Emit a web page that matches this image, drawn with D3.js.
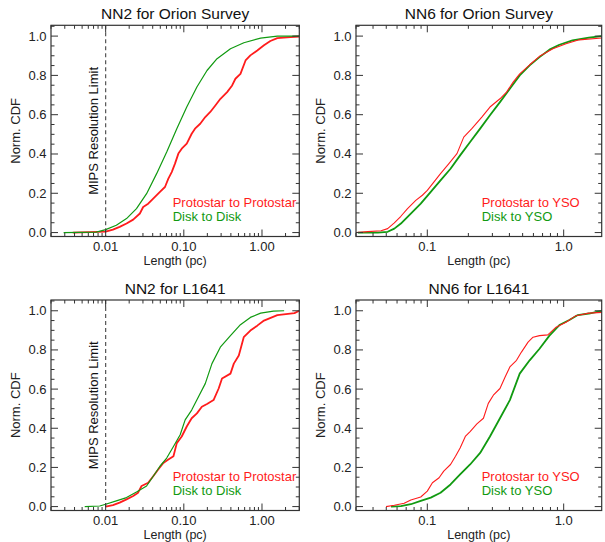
<!DOCTYPE html>
<html>
<head>
<meta charset="utf-8">
<script src="https://cdn.jsdelivr.net/npm/d3@7"></script>
<style>
  body { margin: 0; background: #fff; }
  text { font-family: "Liberation Sans", Arial, Helvetica, sans-serif; }
</style>
</head>
<body>
<svg id="chart" width="605" height="542"></svg>
<script>
// ---- data (length in pc, normalised CDF) ----
const nn2OrionProtoLen = [0.0038, 0.01, 0.0124, 0.0151, 0.0185, 0.0225, 0.0274, 0.0302, 0.035, 0.0406, 0.0495, 0.0574, 0.0634, 0.07, 0.0771, 0.0852, 0.094, 0.109, 0.126, 0.139, 0.162, 0.188, 0.218, 0.253, 0.294, 0.358, 0.415, 0.457, 0.53, 0.616, 0.71, 0.87, 1.06, 1.28, 1.57, 2.3, 3];
const nn2OrionProtoCdf = [0, 0.005, 0.015, 0.029, 0.046, 0.066, 0.097, 0.13, 0.147, 0.173, 0.207, 0.232, 0.275, 0.308, 0.351, 0.402, 0.427, 0.453, 0.503, 0.529, 0.554, 0.588, 0.614, 0.647, 0.681, 0.715, 0.749, 0.783, 0.808, 0.876, 0.902, 0.927, 0.953, 0.975, 0.99, 0.995, 0.998];
const nn2OrionDiskLen = [0.0029, 0.0076, 0.01, 0.0137, 0.0185, 0.0248, 0.0334, 0.0449, 0.0604, 0.0813, 0.109, 0.147, 0.198, 0.266, 0.395, 0.586, 0.96, 1.57, 3];
const nn2OrionDiskCdf = [0, 0.002, 0.015, 0.037, 0.071, 0.122, 0.198, 0.30, 0.41, 0.529, 0.639, 0.741, 0.825, 0.885, 0.936, 0.966, 0.99, 1.0, 1.0];

const nn6OrionProtoLen = [0.03, 0.0366, 0.0458, 0.0512, 0.0573, 0.064, 0.0716, 0.0823, 0.092, 0.1, 0.112, 0.125, 0.144, 0.165, 0.185, 0.212, 0.251, 0.288, 0.341, 0.381, 0.426, 0.476, 0.563, 0.665, 0.833, 1.04, 1.3, 1.9];
const nn6OrionProtoCdf = [0, 0.005, 0.009, 0.02, 0.049, 0.083, 0.122, 0.164, 0.19, 0.215, 0.258, 0.30, 0.351, 0.402, 0.486, 0.529, 0.588, 0.639, 0.681, 0.715, 0.766, 0.808, 0.854, 0.897, 0.936, 0.961, 0.981, 0.99];
const nn6OrionDiskLen = [0.031, 0.0434, 0.0512, 0.0573, 0.064, 0.0757, 0.0895, 0.106, 0.125, 0.148, 0.174, 0.206, 0.244, 0.288, 0.341, 0.403, 0.476, 0.563, 0.665, 0.786, 0.93, 1.16, 1.53, 1.9];
const nn6OrionDiskCdf = [0, 0.0, 0.004, 0.02, 0.046, 0.097, 0.147, 0.207, 0.266, 0.325, 0.393, 0.461, 0.529, 0.597, 0.664, 0.732, 0.80, 0.851, 0.893, 0.931, 0.956, 0.978, 0.992, 1.0];

const nn2L1641ProtoLen = [0.01, 0.0124, 0.0151, 0.0185, 0.0225, 0.026, 0.0288, 0.035, 0.0406, 0.047, 0.0547, 0.0634, 0.0737, 0.0813, 0.094, 0.109, 0.126, 0.147, 0.17, 0.198, 0.24, 0.279, 0.308, 0.395, 0.436, 0.505, 0.584, 0.71, 0.87, 1.06, 1.57, 2.6, 3];
const nn2L1641ProtoCdf = [0, 0.007, 0.02, 0.037, 0.054, 0.071, 0.105, 0.122, 0.155, 0.189, 0.223, 0.24, 0.257, 0.324, 0.358, 0.409, 0.451, 0.476, 0.51, 0.524, 0.544, 0.603, 0.654, 0.679, 0.73, 0.772, 0.865, 0.899, 0.924, 0.95, 0.978, 0.988, 1.0];
const nn2L1641DiskLen = [0.0054, 0.0084, 0.01, 0.0137, 0.0185, 0.0248, 0.0334, 0.0406, 0.0495, 0.0604, 0.0737, 0.0898, 0.104, 0.126, 0.154, 0.188, 0.229, 0.293, 0.395, 0.53, 0.71, 0.96, 1.4, 1.92];
const nn2L1641DiskCdf = [0, 0.003, 0.012, 0.029, 0.046, 0.074, 0.105, 0.155, 0.206, 0.248, 0.307, 0.367, 0.443, 0.493, 0.561, 0.628, 0.73, 0.814, 0.873, 0.929, 0.966, 0.988, 0.998, 1.0];

const nn6L1641ProtoLen = [0.0498, 0.0573, 0.0677, 0.0757, 0.0895, 0.1, 0.109, 0.122, 0.132, 0.148, 0.161, 0.174, 0.19, 0.206, 0.231, 0.258, 0.28, 0.305, 0.341, 0.372, 0.403, 0.451, 0.49, 0.548, 0.596, 0.665, 0.765, 0.88, 1.04, 1.23, 1.53, 1.9];
const nn6L1641ProtoCdf = [0, 0.007, 0.017, 0.034, 0.049, 0.079, 0.122, 0.147, 0.181, 0.215, 0.257, 0.299, 0.358, 0.383, 0.422, 0.451, 0.527, 0.569, 0.603, 0.662, 0.713, 0.747, 0.789, 0.84, 0.865, 0.873, 0.877, 0.916, 0.941, 0.975, 0.988, 0.992];
const nn6L1641DiskLen = [0.0542, 0.064, 0.0757, 0.0895, 0.106, 0.125, 0.148, 0.174, 0.206, 0.244, 0.288, 0.341, 0.403, 0.476, 0.563, 0.665, 0.786, 0.93, 1.1, 1.27, 1.53, 1.9];
const nn6L1641DiskCdf = [0, 0.002, 0.012, 0.029, 0.046, 0.071, 0.113, 0.164, 0.215, 0.274, 0.358, 0.451, 0.544, 0.679, 0.747, 0.806, 0.873, 0.927, 0.953, 0.978, 0.986, 1.0];

const yTickValues = [0, 0.2, 0.4, 0.6, 0.8, 1.0];
const nn2TickValues = [0.01, 0.1, 1];
const nn2TickLabels = ["0.01", "0.10", "1.00"];
const nn6TickValues = [0.1, 1];
const nn6TickLabels = ["0.1", "1.0"];
const mipsLimit = 0.01;

// ---- layout / styling ----
const RED = "#ff1c1c";
const GREEN = "#119a11";
const AXIS = "#333";

const svg = d3.select("#chart");
svg.append("rect").attr("width", 605).attr("height", 542).attr("fill", "#fff");

const panels = [
  { title: "NN2 for Orion Survey", box: [51, 299.3, 25.3, 236.5], xDomain: [0.002, 3],
    ticks: nn2TickValues, labels: nn2TickLabels, mips: true,
    series: [
      { len: nn2OrionProtoLen, cdf: nn2OrionProtoCdf, color: RED, w: 1.8 },
      { len: nn2OrionDiskLen, cdf: nn2OrionDiskCdf, color: GREEN, w: 1.2 }],
    legend: ["Protostar to Protostar", "Disk to Disk"] },
  { title: "NN6 for Orion Survey", box: [356, 601.7, 25.3, 236.5], xDomain: [0.03, 1.9],
    ticks: nn6TickValues, labels: nn6TickLabels, mips: false,
    series: [
      { len: nn6OrionDiskLen, cdf: nn6OrionDiskCdf, color: GREEN, w: 1.8 },
      { len: nn6OrionProtoLen, cdf: nn6OrionProtoCdf, color: RED, w: 1.1 }],
    legend: ["Protostar to YSO", "Disk to YSO"] },
  { title: "NN2 for L1641", box: [51, 299.3, 300, 510.5], xDomain: [0.002, 3],
    ticks: nn2TickValues, labels: nn2TickLabels, mips: true,
    series: [
      { len: nn2L1641ProtoLen, cdf: nn2L1641ProtoCdf, color: RED, w: 1.8 },
      { len: nn2L1641DiskLen, cdf: nn2L1641DiskCdf, color: GREEN, w: 1.2 }],
    legend: ["Protostar to Protostar", "Disk to Disk"] },
  { title: "NN6 for L1641", box: [356, 601.7, 300, 510.5], xDomain: [0.03, 1.9],
    ticks: nn6TickValues, labels: nn6TickLabels, mips: false,
    series: [
      { len: nn6L1641DiskLen, cdf: nn6L1641DiskCdf, color: GREEN, w: 1.8 },
      { len: nn6L1641ProtoLen, cdf: nn6L1641ProtoCdf, color: RED, w: 1.1 }],
    legend: ["Protostar to YSO", "Disk to YSO"] }
];

function logMinors(domain, majors) {
  const out = [];
  for (let k = Math.floor(Math.log10(domain[0])); k <= Math.ceil(Math.log10(domain[1])); k++) {
    for (let m = 1; m <= 9; m++) {
      const v = m * Math.pow(10, k);
      if (v >= domain[0] && v <= domain[1] && !majors.some(t => Math.abs(t - v) < 1e-9)) out.push(v);
    }
  }
  return out;
}

panels.forEach((p, i) => {
  const [L, R, T, B] = p.box;
  const x = d3.scaleLog().domain(p.xDomain).range([L, R]);
  const y = d3.scaleLinear().domain([-0.02, 1.055]).range([B, T]);
  const g = svg.append("g");

  g.append("clipPath").attr("id", "clip" + i)
    .append("rect").attr("x", L).attr("y", T).attr("width", R - L).attr("height", B - T);

  // curves
  const line = d3.line().x(d => x(d[0])).y(d => y(d[1]));
  const curves = g.append("g").attr("clip-path", `url(#clip${i})`);
  p.series.forEach(s => {
    curves.append("path")
      .datum(s.len.map((v, j) => [v, s.cdf[j]]))
      .attr("d", line)
      .attr("fill", "none")
      .attr("stroke", s.color)
      .attr("stroke-width", s.w)
      .attr("stroke-linejoin", "round");
  });

  // MIPS resolution line
  if (p.mips) {
    g.append("line")
      .attr("x1", x(mipsLimit)).attr("x2", x(mipsLimit))
      .attr("y1", T).attr("y2", B)
      .attr("stroke", "#555").attr("stroke-width", 1.2)
      .attr("stroke-dasharray", "4,3");
    g.append("text")
      .attr("transform", `translate(${x(mipsLimit) - 8},${(T + B) / 2}) rotate(-90)`)
      .attr("text-anchor", "middle")
      .attr("font-size", 13)
      .attr("fill", "#111")
      .text("MIPS Resolution Limit");
  }

  // box
  g.append("rect").attr("x", L).attr("y", T).attr("width", R - L).attr("height", B - T)
    .attr("fill", "none").attr("stroke", AXIS).attr("stroke-width", 1.2);

  // x ticks (bottom and top, inward)
  const minorsX = logMinors(p.xDomain, p.ticks);
  const tickG = g.append("g").attr("stroke", AXIS).attr("stroke-width", 1);
  p.ticks.forEach(v => {
    tickG.append("line").attr("x1", x(v)).attr("x2", x(v)).attr("y1", B).attr("y2", B - 7);
    tickG.append("line").attr("x1", x(v)).attr("x2", x(v)).attr("y1", T).attr("y2", T + 7);
  });
  minorsX.forEach(v => {
    tickG.append("line").attr("x1", x(v)).attr("x2", x(v)).attr("y1", B).attr("y2", B - 3.5);
    tickG.append("line").attr("x1", x(v)).attr("x2", x(v)).attr("y1", T).attr("y2", T + 3.5);
  });
  // y ticks (left and right, inward)
  d3.range(0, 22).map(k => k * 0.05).forEach((v, k) => {
    const len = k % 4 === 0 ? 7 : 3.5;
    tickG.append("line").attr("x1", L).attr("x2", L + len).attr("y1", y(v)).attr("y2", y(v));
    tickG.append("line").attr("x1", R).attr("x2", R - len).attr("y1", y(v)).attr("y2", y(v));
  });

  // tick labels
  g.selectAll(".xl").data(p.ticks).join("text")
    .attr("x", d => x(d)).attr("y", B + 14)
    .attr("text-anchor", "middle").attr("font-size", 13).attr("fill", "#222")
    .text((d, j) => p.labels[j]);
  g.selectAll(".yl").data(yTickValues).join("text")
    .attr("x", L - 4.5).attr("y", d => y(d) + 4.5)
    .attr("text-anchor", "end").attr("font-size", 13).attr("fill", "#222")
    .text(d => d3.format(".1f")(d));

  // axis titles
  g.append("text").attr("x", (L + R) / 2).attr("y", B + 28.5)
    .attr("text-anchor", "middle").attr("font-size", 12.5).attr("fill", "#222")
    .text("Length (pc)");
  g.append("text")
    .attr("transform", `translate(${L - 31},${(T + B) / 2}) rotate(-90)`)
    .attr("text-anchor", "middle").attr("font-size", 13).attr("fill", "#222")
    .text("Norm. CDF");
  g.append("text").attr("x", (L + R) / 2).attr("y", T - 6)
    .attr("text-anchor", "middle").attr("font-size", 15.5).attr("fill", "#111")
    .text(p.title);

  // legend
  const lx = L + (p.mips ? 121.7 : 125.7);
  g.append("text").attr("x", lx).attr("y", B - 30).attr("font-size", 13)
    .attr("fill", RED).text(p.legend[0]);
  g.append("text").attr("x", lx).attr("y", B - 16).attr("font-size", 13)
    .attr("fill", GREEN).text(p.legend[1]);
});
</script>
</body>
</html>
